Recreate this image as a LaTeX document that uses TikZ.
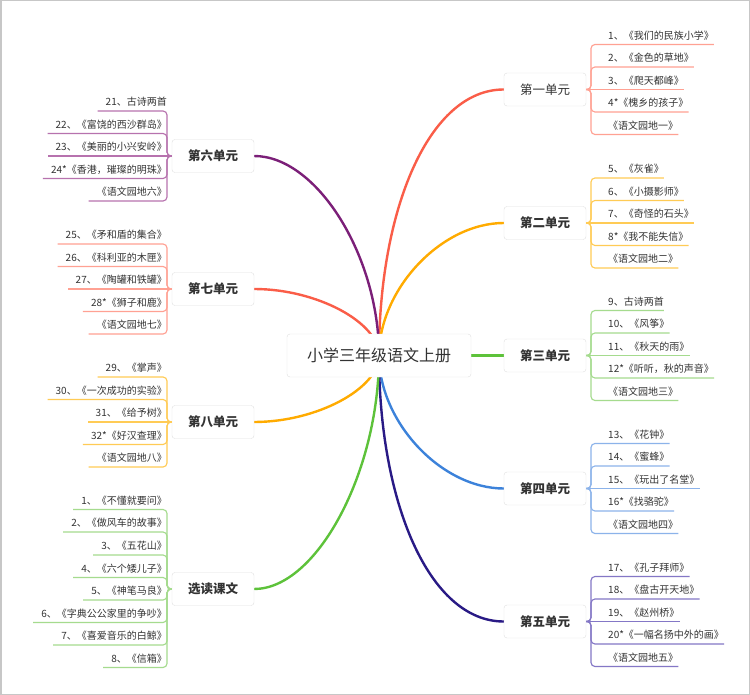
\documentclass[tikz,border=0pt]{standalone}
\usepackage{fontspec}
\newfontfamily\cjk{Noto Sans CJK SC}
\usetikzlibrary{calc,backgrounds}
\definecolor{cred}{HTML}{FA5D48}\definecolor{lred}{HTML}{FFA193}
\definecolor{cora}{HTML}{FFAB00}\definecolor{lora}{HTML}{FFCB55}
\definecolor{cgre}{HTML}{5DC23A}\definecolor{lgre}{HTML}{A5DB8E}
\definecolor{cblu}{HTML}{3C82DA}\definecolor{lblu}{HTML}{8CB3EA}
\definecolor{cnav}{HTML}{291A85}\definecolor{lnav}{HTML}{8477C6}
\definecolor{cpur}{HTML}{7B1F78}\definecolor{lpur}{HTML}{B772AE}
\definecolor{txt}{HTML}{333333}
\newcommand\branchc[5]{\draw[mainline,#1] (ctr.center) .. controls ($(ctr.center)!#4!(ctr.center |- #2.#3)$) and ($(#2.#3)!#5!(ctr.center |- #2.#3)$) .. (#2.#3);}
\newcommand\rleaves[4]{%
  \foreach \yy/\lt [count=\i] in {#4} {
    \node[leafR] (#1l\i) at (591,\yy) {\hspace{17pt}\lt\hspace{9pt}};
    \ifnum\i=#3
      \draw[leafline,#2] (#1.east) -- (#1l\i.south east);
    \else
      \draw[leafline,#2,rounded corners=4pt] (#1.east) -| (591,\yy) -- (#1l\i.south east);
    \fi
  }}
\newcommand\lleaves[4]{%
  \foreach \yy/\lt [count=\i] in {#4} {
    \node[leafL] (#1l\i) at (167,\yy) {\hspace{8pt}\lt\hspace{19pt}};
    \ifnum\i=#3
      \draw[leafline,#2] (#1.west) -- (#1l\i.south west);
    \else
      \draw[leafline,#2,rounded corners=4pt] (#1.west) -| (167,\yy) -- (#1l\i.south west);
    \fi
  }}
\begin{document}
\begin{tikzpicture}[x=1pt,y=-1pt,
  unitbox/.style={draw=black!12, fill=white, rounded corners=3pt, minimum width=82pt, minimum height=33pt, inner sep=0pt, text=txt, font=\cjk\bfseries\fontsize{12.5}{14}\selectfont},
  rootbox/.style={draw=black!12, fill=white, rounded corners=3pt, minimum width=184pt, minimum height=43pt, inner sep=0pt, text=txt, font=\cjk\fontsize{16}{18}\selectfont},
  leafR/.style={anchor=south west, inner sep=0pt, text height=9pt, text depth=5pt, text=txt, font=\cjk\fontsize{10}{11}\selectfont},
  leafL/.style={anchor=south east, inner sep=0pt, text height=9pt, text depth=5pt, text=txt, font=\cjk\fontsize{10}{11}\selectfont},
  mainline/.style={line width=2.4pt},
  leafline/.style={line width=1.15pt}]
\useasboundingbox (0,0) rectangle (750,695);
\node[rootbox] (ctr) at (379,355.5) {小学三年级语文上册};
\node[unitbox, font=\cjk\fontsize{12.5}{14}\selectfont] (u1) at (545,89.5) {第一单元};
\node[unitbox] (u2) at (545,223) {第二单元};
\node[unitbox] (u3) at (545,355.5) {第三单元};
\node[unitbox] (u4) at (545,488.5) {第四单元};
\node[unitbox] (u5) at (545,621.5) {第五单元};
\node[unitbox] (u6) at (213,156) {第六单元};
\node[unitbox] (u7) at (213,289) {第七单元};
\node[unitbox] (u8) at (213,422) {第八单元};
\node[unitbox] (u9) at (213,589) {选读课文};
\begin{scope}[on background layer]
\fill[white] (0,0) rectangle (750,695);
\draw[black!22, line width=1.5pt] (0.75,0.75) rectangle (749.25,694.25);
\branchc{cred}{u1}{west}{0.55}{0.6}
\branchc{cora}{u2}{west}{0.5}{0.5}
\branchc{cgre}{u3}{west}{0.5}{0.5}
\branchc{cblu}{u4}{west}{0.5}{0.5}
\branchc{cnav}{u5}{west}{0.55}{0.6}
\branchc{cpur}{u6}{east}{0.5}{0.5}
\branchc{cred}{u7}{east}{0.5}{0.5}
\branchc{cora}{u8}{east}{0.5}{0.5}
\branchc{cgre}{u9}{east}{0.5}{0.5}
\end{scope}
\rleaves{u1}{lred}{3}{44.5/{1、《我们的民族小学》},67/{2、《金色的草地》},89.5/{3、《爬天都峰》},112/{4*《槐乡的孩子》},134.5/{《语文园地一》}}
\rleaves{u2}{lora}{3}{178/{5、《灰雀》},200.5/{6、《小摄影师》},223/{7、《奇怪的石头》},245.5/{8*《我不能失信》},268/{《语文园地二》}}
\rleaves{u3}{lgre}{3}{310.5/{9、古诗两首},333/{10、《风筝》},355.5/{11、《秋天的雨》},378/{12*《听听，秋的声音》},400.5/{《语文园地三》}}
\rleaves{u4}{lblu}{3}{443.5/{13、《花钟》},466/{14、《蜜蜂》},488.5/{15、《玩出了名堂》},511/{16*《找骆驼》},533.5/{《语文园地四》}}
\rleaves{u5}{lnav}{3}{576.5/{17、《孔子拜师》},599/{18、《盘古开天地》},621.5/{19、《赵州桥》},644/{20*《一幅名扬中外的画》},666.5/{《语文园地五》}}
\lleaves{u6}{lpur}{3}{111/{21、古诗两首},133.5/{22、《富饶的西沙群岛》},156/{23、《美丽的小兴安岭》},178.5/{24*《香港，璀璨的明珠》},201/{《语文园地六》}}
\lleaves{u7}{lred}{3}{244/{25、《矛和盾的集合》},266.5/{26、《科利亚的木匣》},289/{27、《陶罐和铁罐》},311.5/{28*《狮子和鹿》},334/{《语文园地七》}}
\lleaves{u8}{lora}{3}{377/{29、《掌声》},399.5/{30、《一次成功的实验》},422/{31、《给予树》},444.5/{32*《好汉查理》},467/{《语文园地八》}}
\lleaves{u9}{lgre}{0}{509.5/{1、《不懂就要问》},532/{2、《做风车的故事》},555/{3、《五花山》},577.5/{4、《六个矮儿子》},600/{5、《神笔马良》},622.5/{6、《字典公公家里的争吵》},645/{7、《喜爱音乐的白鲸》},667.5/{8、《信箱》}}
\end{tikzpicture}
\end{document}
